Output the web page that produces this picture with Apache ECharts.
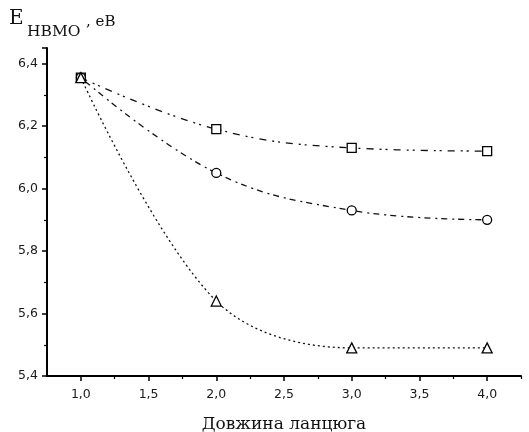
<!DOCTYPE html>
<html><head><meta charset="utf-8">
<script src="https://cdn.jsdelivr.net/npm/echarts@6/dist/echarts.min.js"></script>
<style>html,body{margin:0;padding:0;background:#fff}#c{width:529px;height:432px}</style>
</head><body><div id="c"></div>
<script>
const xValues = [1.0, 2.0, 3.0, 4.0];
const squareSeries = [6.355, 6.19, 6.13, 6.12];
const circleSeries = [6.355, 6.05, 5.93, 5.90];
const triangleSeries = [6.355, 5.64, 5.49, 5.49];
const xTicks = [1.0, 1.5, 2.0, 2.5, 3.0, 3.5, 4.0];
const xMinorTicks = [1.25, 1.75, 2.25, 2.75, 3.25, 3.75, 4.25];
const xTitle = 'Довжина ланцюга';
const yTitleMain = 'E';
const yTitleSub = 'HBMO';
const yTitleUnit = ', eB';

const fmt = v => v.toFixed(1).replace('.', ',');
const pairs = ys => xValues.map((x, i) => [x, ys[i]]);

const chart = echarts.init(document.getElementById('c'), null, {renderer: 'canvas'});
const lineBase = {color: '#111', width: 1.3};
const labelStyle = {color: '#1a1a1a', fontSize: 12.5, fontFamily: 'DejaVu Sans'};
chart.setOption({
  animation: false,
  backgroundColor: '#fff',
  grid: {left: 47, right: 8, top: 48, bottom: 56, containLabel: false, outerBoundsMode: 'none'},
  xAxis: [{
    type: 'value', min: 0.75, max: 4.25,
    axisLine: {show: true, onZero: false, lineStyle: {color: '#000', width: 2}},
    axisTick: {show: true, length: 5, customValues: xTicks, lineStyle: {color: '#000', width: 1.5}},
    axisLabel: Object.assign({show: true, customValues: xTicks, formatter: v => fmt(v), margin: 12}, labelStyle),
    splitLine: {show: false},
    name: xTitle, nameLocation: 'middle', nameGap: 40,
    nameTextStyle: {fontFamily: 'DejaVu Serif', fontSize: 17, color: '#111'}
  }, {
    type: 'value', min: 0.75, max: 4.25, position: 'bottom', gridIndex: 0,
    axisLine: {show: false},
    axisTick: {show: true, length: 3, customValues: xMinorTicks, lineStyle: {color: '#000', width: 1.2}},
    axisLabel: {show: false}, splitLine: {show: false}
  }],
  yAxis: {
    type: 'value', min: 5.4, max: 6.45, interval: 0.2,
    axisLine: {show: true, onZero: false, lineStyle: {color: '#000', width: 2}},
    axisTick: {show: true, length: 5, lineStyle: {color: '#000', width: 1.5}},
    minorTick: {show: true, splitNumber: 2, length: 3, lineStyle: {color: '#000', width: 1.2}},
    axisLabel: Object.assign({formatter: v => fmt(v), margin: 9, showMaxLabel: false}, labelStyle),
    splitLine: {show: false}
  },
  graphic: [
    {type: 'text', left: 9, top: 9, style: {text: yTitleMain, fontFamily: 'DejaVu Serif', fontSize: 20, fill: '#111'}},
    {type: 'text', left: 27, top: 24, style: {text: yTitleSub, fontFamily: 'DejaVu Serif', fontSize: 15.5, fill: '#111'}},
    {type: 'text', left: 86, top: 15, style: {text: yTitleUnit, fontFamily: 'DejaVu Serif', fontSize: 15, fill: '#111'}}
  ],
  series: [{
    type: 'line', data: pairs(squareSeries), smooth: 0.4,
    symbol: 'rect', symbolSize: 9, showSymbol: true,
    itemStyle: {color: '#fff', borderColor: '#000', borderWidth: 1.3},
    lineStyle: Object.assign({}, lineBase, {type: [7, 6, 2, 4, 2, 6]})
  }, {
    type: 'line', data: pairs(circleSeries), smooth: 0.4,
    symbol: 'circle', symbolSize: 9,
    itemStyle: {color: '#fff', borderColor: '#000', borderWidth: 1.3},
    lineStyle: Object.assign({}, lineBase, {type: [2, 4, 6, 5]})
  }, {
    type: 'line', data: pairs(triangleSeries), smooth: 0.35,
    symbol: 'triangle', symbolSize: 10,
    itemStyle: {color: '#fff', borderColor: '#000', borderWidth: 1.3},
    lineStyle: Object.assign({}, lineBase, {type: [2, 3]})
  }]
});
</script></body></html>
